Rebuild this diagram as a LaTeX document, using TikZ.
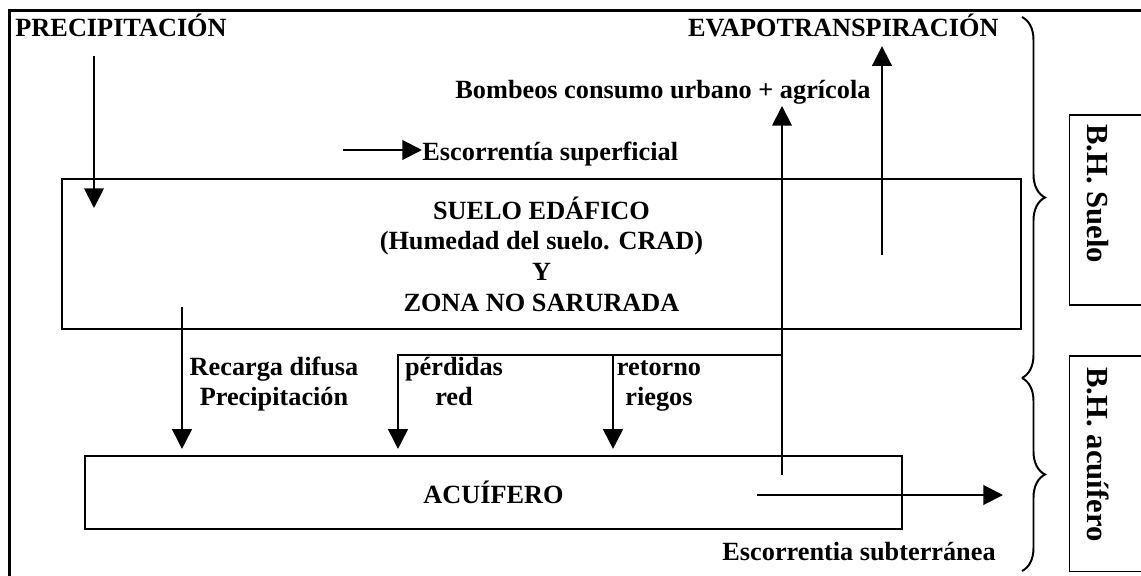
\documentclass[tikz,border=0pt]{standalone}
\usepackage{fontspec}
\setmainfont{Liberation Serif}
\usetikzlibrary{shapes,arrows.meta,decorations.pathreplacing}
\tikzstyle{block} = [rectangle, draw, line width=0.9pt, text centered, align=center, inner sep=0pt]
\tikzstyle{line} = [draw, line width=0.9pt, -{Triangle[length=9pt, width=9pt]}]
\tikzstyle{wire} = [draw, line width=0.9pt]
\tikzstyle{txt} = [inner sep=0pt, text height=9pt, text depth=3pt, node distance=13.7pt]
\tikzstyle{side} = [txt, font=\bfseries\fontsize{14}{16}\selectfont, rotate=-90, anchor=base west]
\tikzstyle{frame} = [draw, line width=1.4pt]
\tikzstyle{bracket} = [draw, line width=0.9pt, decorate, decoration={brace, amplitude=10.5pt}]

\begin{document}
\begin{tikzpicture}[x=0.4566pt, y=-0.4566pt, font=\bfseries\fontsize{12}{14}\selectfont]
	\useasboundingbox (0,0) rectangle (1141,576);
	\clip (0,0) rectangle (1141,576);
	\path [frame] (9.5,10.5) rectangle (1200,620);

	% boxes
	\node [block, minimum width=437.9pt, minimum height=68.5pt] (suelo) at (541.5,254) {SUELO EDÁFICO\\(Humedad del suelo. CRAD)\\Y\\ZONA NO SARURADA};
	\node [block, minimum width=373pt, minimum height=32.9pt] (acuifero) at (493.5,492.5) {ACUÍFERO};

	% labels
	\node [txt, anchor=base west] (precip) at (15,37) {PRECIPITACIÓN};
	\node [txt, anchor=base east] (evapo) at (999,37) {EVAPOTRANSPIRACIÓN};
	\node [txt, anchor=base west] (bombeos) at (455,99) {Bombeos consumo urbano + agrícola};
	\node [txt, anchor=base west] (escsup) at (422,160) {Escorrentía superficial};
	\node [txt, anchor=base] (recarga) at (274,375) {Recarga difusa};
	\node [txt, below of=recarga] (precipl) {Precipitación};
	\node [txt, anchor=base] (perdidas) at (454,375) {pérdidas};
	\node [txt, below of=perdidas] (red) {red};
	\node [txt, anchor=base] (retorno) at (659,375) {retorno};
	\node [txt, below of=retorno] (riegos) {riegos};
	\node [txt, anchor=base west] (escsub) at (722,560) {Escorrentia subterránea};

	% balance boxes
	\path [frame, line width=0.9pt] (1069.5,115) rectangle (1200,305);
	\path [frame, line width=0.9pt] (1069.5,356) rectangle (1200,571.5);
	\node [side] (bhsuelo) at (1087,124) {B.H. Suelo};
	\node [side] (bhacuifero) at (1087,367) {B.H. acuífero};
	\path [bracket] (1022,17) -- (1022,378);
	\path [bracket] (1022,378) -- (1022,571);

	% flows
	\coordinate (prec0) at (94,56);
	\coordinate (prec1) at (94,208);
	\coordinate (esc0) at (343,150);
	\coordinate (bomb0) at (782,475);
	\coordinate (junc) at (782,355);
	\coordinate (evap0) at (882,255);
	\coordinate (rec0) at (182,307);
	\coordinate (perd0) at (398,355);
	\coordinate (ret0) at (613,355);
	\coordinate (sub0) at (757,495);
	\coordinate (sub1) at (1003,495);

	\path [line] (prec0) -- (prec1);
	\path [line] (esc0) -- (esc0 -| escsup.west);
	\path [line] (bomb0) -- (bomb0 |- bombeos.south);
	\path [line] (evap0) -- ([yshift=-1pt]evap0 |- evapo.south);
	\path [line] (rec0) -- ([yshift=3pt]rec0 |- acuifero.north);
	\path [line] (junc) -- (perd0) -- ([yshift=3pt]perd0 |- acuifero.north);
	\path [line] (ret0) -- ([yshift=3pt]ret0 |- acuifero.north);
	\path [line] (sub0) -- (sub1);
\end{tikzpicture}
\end{document}
